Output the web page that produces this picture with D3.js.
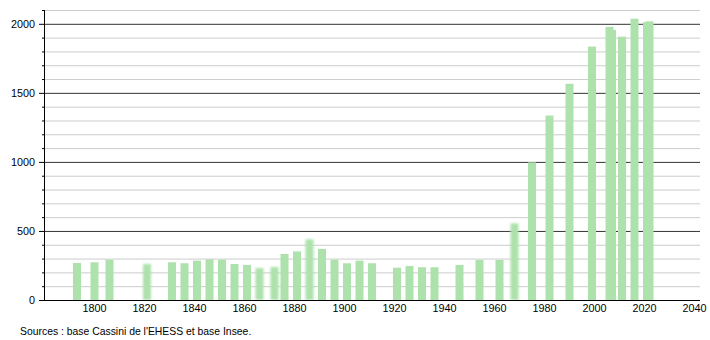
<!DOCTYPE html>
<html><head><meta charset="utf-8">
<script src="https://cdn.jsdelivr.net/npm/d3@7"></script>
<style>body{margin:0;background:#fff;}svg{display:block;font-family:"Liberation Sans",Arial,sans-serif;}</style>
</head><body>
<svg id="c" width="710" height="340"></svg>
<script>
const years = [1793,1800,1806,1821,1831,1836,1841,1846,1851,1856,1861,1866,1872,1876,1881,1886,1891,1896,1901,1906,1911,1921,1926,1931,1936,1946,1954,1962,1968,1975,1982,1990,1999,2006,2007,2011,2016,2021,2022];
const population = [268,273,292,261,273,266,285,295,292,261,254,232,239,333,352,440,370,292,266,285,266,234,247,237,237,254,290,290,555,997,1336,1566,1835,1978,1955,1907,2037,2012,2018];
const xTicks = [1800,1820,1840,1860,1880,1900,1920,1940,1960,1980,2000,2020,2040];
const yTicks = [0,500,1000,1500,2000];
const sourceText = "Sources : base Cassini de l'EHESS et base Insee.";

const svg = d3.select("#c");
const x = d3.scaleLinear().domain([1780, 2042.4]).range([44.5, 700.5]);
const y = d3.scaleLinear().domain([0, 2100]).range([300, 10]);
const barW = x(1783.2) - x(1780);

const defs = svg.append("defs");
defs.append("filter").attr("id","fz").attr("x","-50%").attr("y","-10%").attr("width","200%").attr("height","120%")
  .append("feGaussianBlur").attr("stdDeviation","1.1");

// minor grid
const minor = d3.range(100, 2101, 100).filter(v => v % 500 !== 0);
svg.append("g").selectAll("line").data(minor).join("line")
  .attr("x1", 44).attr("x2", 700).attr("y1", d => y(d)+0.5).attr("y2", d => y(d)+0.5)
  .attr("stroke", "#cccccc").attr("stroke-width", 1);
// major grid
svg.append("g").selectAll("line").data(yTicks.filter(v => v > 0)).join("line")
  .attr("x1", 44).attr("x2", 700).attr("y1", d => y(d)+0.5).attr("y2", d => y(d)+0.5)
  .attr("stroke", "#333333").attr("stroke-width", 1);

// bars
const fuzzy = new Set([1821,1866,1872,1886,1968]);
svg.append("g").selectAll("rect").data(years).join("rect")
  .attr("x", d => x(d) - barW/2)
  .attr("width", barW)
  .attr("y", (d,i) => y(population[i]))
  .attr("height", (d,i) => y(0) - y(population[i]))
  .attr("fill", "#ade2ad")
  .attr("filter", d => fuzzy.has(d) ? "url(#fz)" : null);

// y axis
const yAxis = svg.append("g");
yAxis.append("line").attr("x1", 44.5).attr("x2", 44.5).attr("y1", 10).attr("y2", 300).attr("stroke", "#000");
yAxis.selectAll("line.mt").data(minor).join("line").attr("class","mt")
  .attr("x1", 42).attr("x2", 44).attr("y1", d => y(d)+0.5).attr("y2", d => y(d)+0.5).attr("stroke", "#000");
yAxis.selectAll("line.Mt").data(yTicks).join("line").attr("class","Mt")
  .attr("x1", 39).attr("x2", 44).attr("y1", d => y(d)+0.5).attr("y2", d => y(d)+0.5).attr("stroke", "#000");
yAxis.selectAll("text").data(yTicks).join("text")
  .attr("x", 35).attr("y", d => y(d)).attr("dy", "0.35em").attr("text-anchor", "end")
  .attr("font-size", 10.8).attr("fill", "#000").text(d => d);

// x axis
const xAxis = svg.append("g");
xAxis.append("line").attr("x1", 39).attr("x2", 700).attr("y1", 300.5).attr("y2", 300.5).attr("stroke", "#000");
xAxis.selectAll("text").data(xTicks).join("text")
  .attr("x", d => x(d)).attr("y", 308.5).attr("dy", "0.35em").attr("text-anchor", "middle")
  .attr("font-size", 10.8).attr("fill", "#000").text(d => d);

svg.append("text").attr("x", 20).attr("y", 331).attr("dy", "0.35em")
  .attr("font-size", 10.4).attr("fill", "#000").text(sourceText);
</script>
</body></html>
